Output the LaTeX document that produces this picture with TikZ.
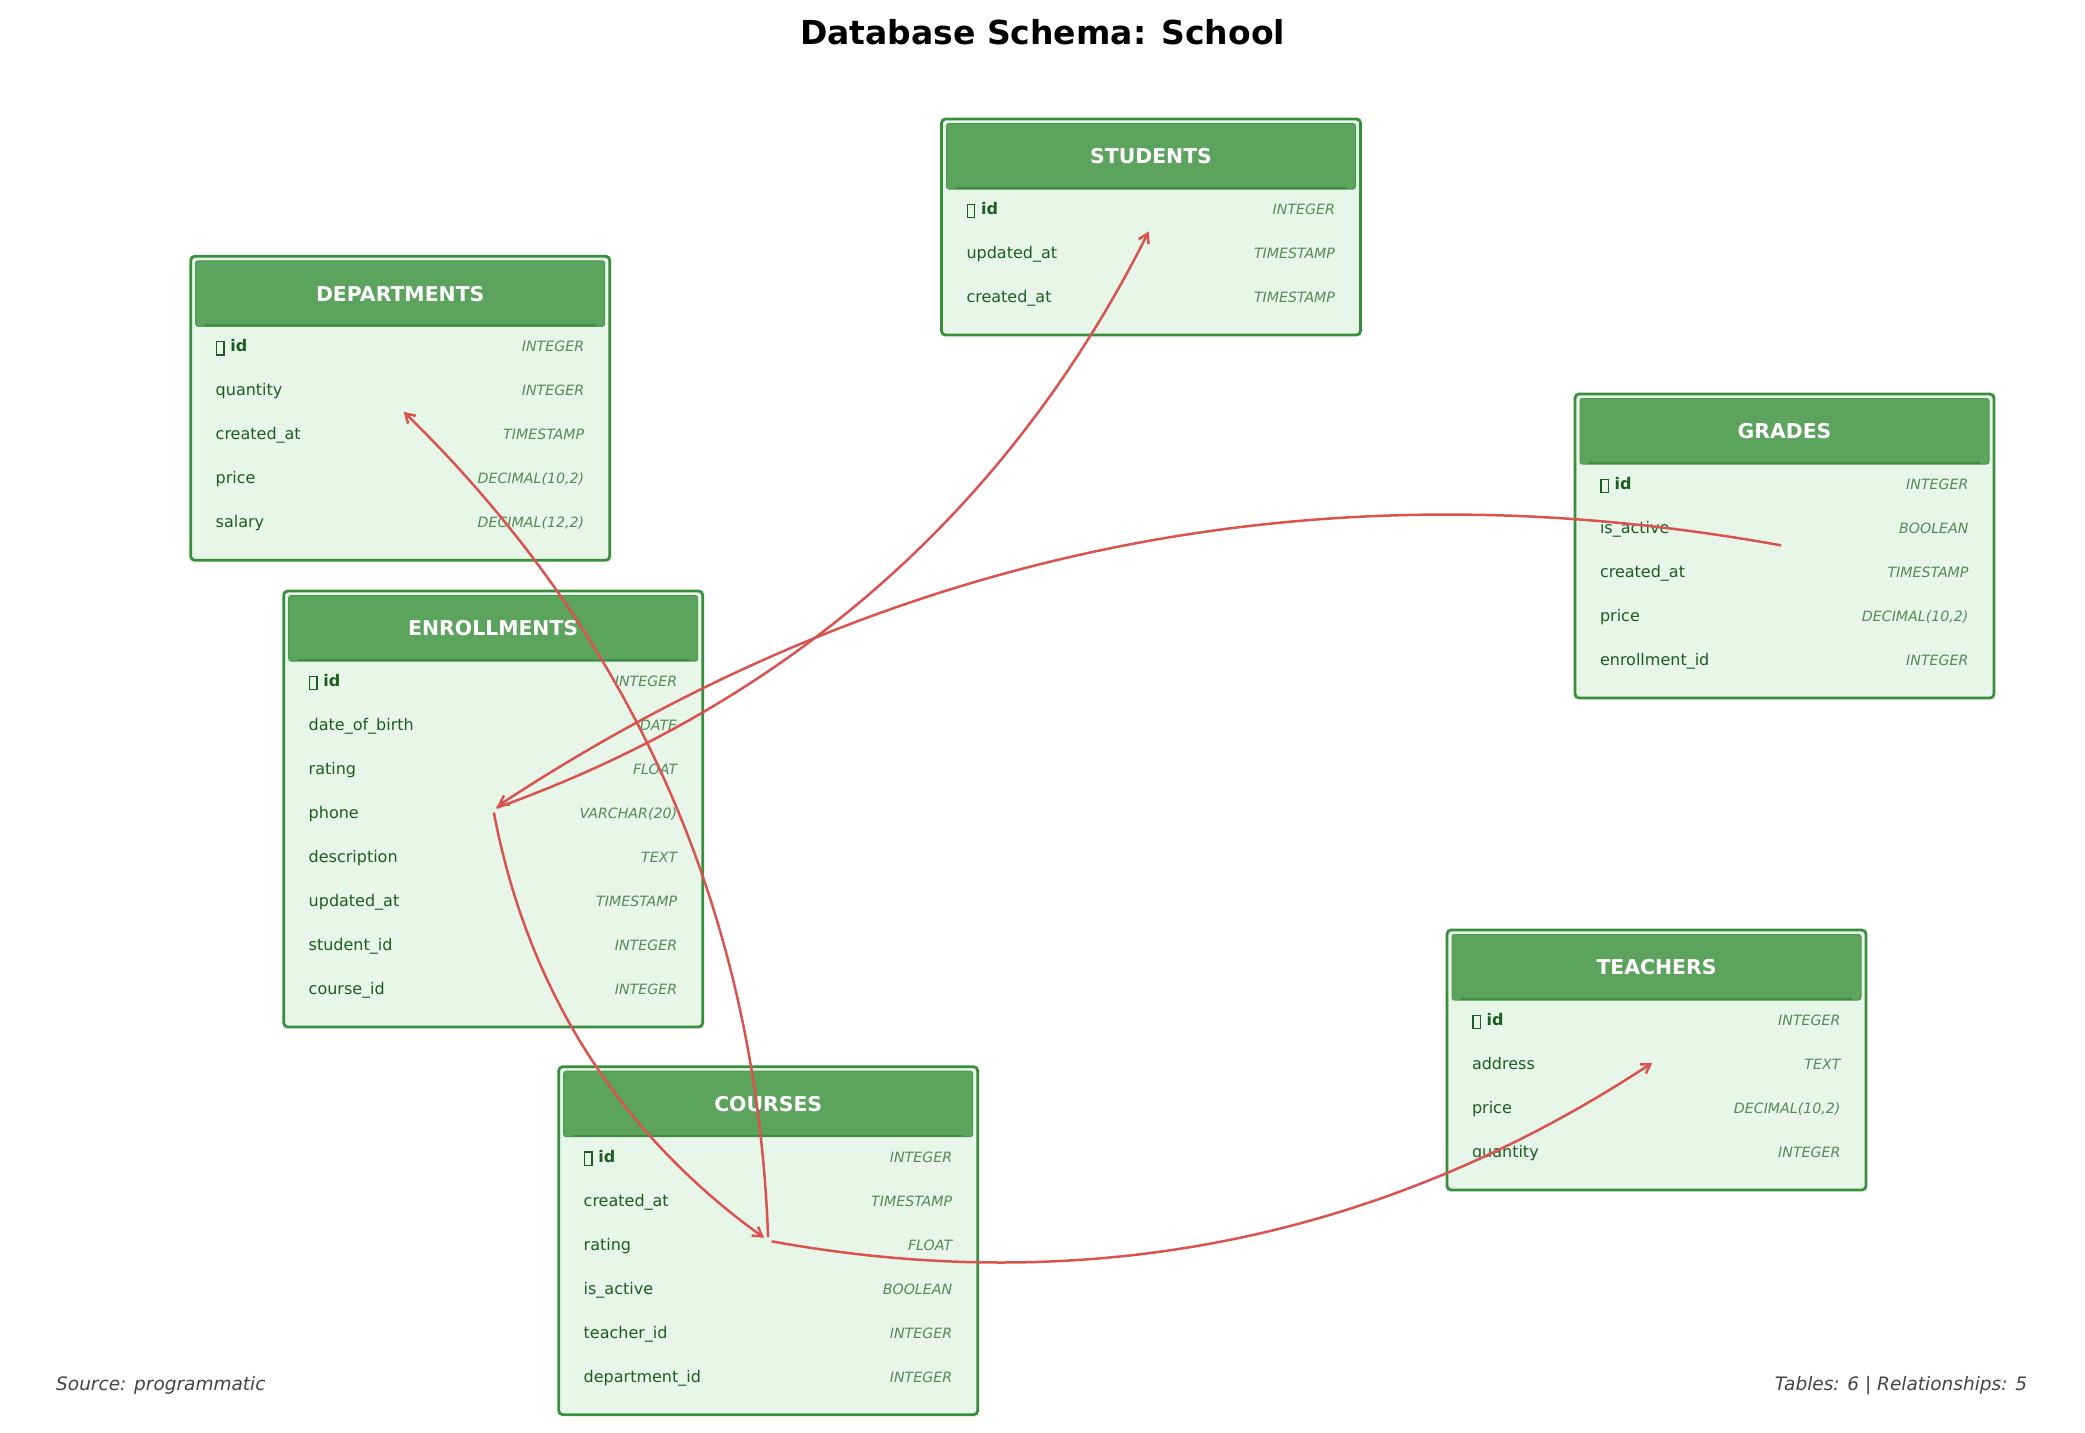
\documentclass[tikz,border=0pt]{standalone}
\usepackage{fontspec}
\setmainfont{DejaVu Sans}
\usetikzlibrary{calc,arrows.meta}
\definecolor{tborder}{HTML}{388E3C}
\definecolor{tbody}{HTML}{E8F5E9}
\definecolor{theadfill}{HTML}{5CA35E}
\definecolor{theadedge}{HTML}{4B9A4E}
\definecolor{theadline}{HTML}{3E8D42}
\definecolor{rowtext}{HTML}{1B5E20}
\definecolor{typetext}{HTML}{558B57}
\definecolor{relcolor}{HTML}{D9534F}
\definecolor{foottext}{HTML}{444444}
\tikzset{
  tbox/.style={draw=tborder, line width=2.8pt, fill=tbody, rounded corners=4pt,
    minimum width=419pt, inner sep=0pt, outer sep=0pt},
  headbox/.style={fill=theadfill, draw=theadedge, line width=1pt, rounded corners=2.5pt},
  headline/.style={draw=theadline, line width=2pt},
  htitle/.style={text=white, font=\fontsize{20.4}{24}\selectfont\bfseries, inner sep=0pt},
  fname/.style={text=rowtext, font=\fontsize{16}{19}\selectfont, inner sep=0pt, anchor=base west},
  ftype/.style={text=typetext, font=\fontsize{14.2}{17}\selectfont\itshape, inner sep=0pt, anchor=base east},
  rel/.style={draw=relcolor, line width=2.5pt, -{Straight Barb[length=9pt,width=11pt]},
    shorten <=3.5pt, shorten >=5pt},
  maintitle/.style={font=\fontsize{33}{40}\selectfont\bfseries, inner sep=0pt, anchor=base},
  foot/.style={text=foottext, font=\fontsize{18.5}{22}\selectfont\itshape, inner sep=0pt},
}
% the missing key glyph, printed as an empty box in the reference
\newcommand{\keyglyph}{\raisebox{-2.7pt}{\setlength{\fboxsep}{0pt}\setlength{\fboxrule}{1.25pt}\fbox{\rule{0pt}{12pt}\hspace{6pt}}}}
\newcommand{\erdtable}[6]{%
  \node[tbox, minimum height={(84+44*#5)*1pt}, anchor=north west] (#1) at (#2,#3) {};
  \draw[headbox] ($(#1.north west)+(5,4.5)$) rectangle ($(#1.north east)+(-5,70)$);
  \draw[headline] ($(#1.north west)+(14,69)$) -- ($(#1.north east)+(-14,69)$);
  \node[htitle] (#1-title) at ($(#1.north)+(0,37.3)$) {#4};
  \node[fname] (#1-id) at ($(#1.north west)+(25.2,95.3)$) {\keyglyph\hspace{5.8pt}\textbf{id}};
  \node[ftype] (#1-idt) at ($(#1.north east)+(-25.3,95.3)$) {INTEGER};
  \foreach \fn/\ft [count=\i] in {#6} {
    \node[fname] (#1-r\i) at ($(#1.north west)+(24.8,95.3+44*\i)$) {\fn};
    \node[ftype] (#1-t\i) at ($(#1.north east)+(-25.3,95.3+44*\i)$) {\ft};
  }
}
\newcommand{\arcrel}[2]{%
  \coordinate (ctl-#1-#2) at ($(#1.center)!0.5!(#2.center)!0.4!-90:(#2.center)$);
  \draw[rel] (#1.center) .. controls ($(#1.center)!2/3!(ctl-#1-#2)$) and ($(#2.center)!2/3!(ctl-#1-#2)$) .. (#2.center);
}
\begin{document}
\begin{tikzpicture}[x=1pt, y=-1pt]
\fill[white] (0,0) rectangle (2085,1432);
\useasboundingbox (0,0) rectangle (2085,1432);

\node[maintitle] (title) at (1042.5,44.6) {Database Schema: School};

\erdtable{students}{941.5}{119}{STUDENTS}{3}{updated\_at/TIMESTAMP, created\_at/TIMESTAMP}
\erdtable{departments}{190.7}{256.3}{DEPARTMENTS}{5}{quantity/INTEGER, created\_at/TIMESTAMP, price/{DECIMAL(10,2)}, salary/{DECIMAL(12,2)}}
\erdtable{grades}{1575}{394}{GRADES}{5}{is\_active/BOOLEAN, created\_at/TIMESTAMP, price/{DECIMAL(10,2)}, enrollment\_id/INTEGER}
\erdtable{enrollments}{283.7}{591}{ENROLLMENTS}{8}{date\_of\_birth/DATE, rating/FLOAT, phone/{VARCHAR(20)}, description/TEXT, updated\_at/TIMESTAMP, student\_id/INTEGER, course\_id/INTEGER}
\erdtable{courses}{558.7}{1066.7}{COURSES}{6}{created\_at/TIMESTAMP, rating/FLOAT, is\_active/BOOLEAN, teacher\_id/INTEGER, department\_id/INTEGER}
\erdtable{teachers}{1447}{930}{TEACHERS}{4}{address/TEXT, price/{DECIMAL(10,2)}, quantity/INTEGER}

\arcrel{enrollments}{students}
\arcrel{grades}{enrollments}
\arcrel{enrollments}{courses}
\arcrel{courses}{departments}
\arcrel{courses}{teachers}

\node[foot, anchor=base west] (source) at (56,1390) {Source: programmatic};
\node[foot, anchor=base east] (stats) at (2027.3,1390) {Tables: 6 | Relationships: 5};
\end{tikzpicture}
\end{document}
